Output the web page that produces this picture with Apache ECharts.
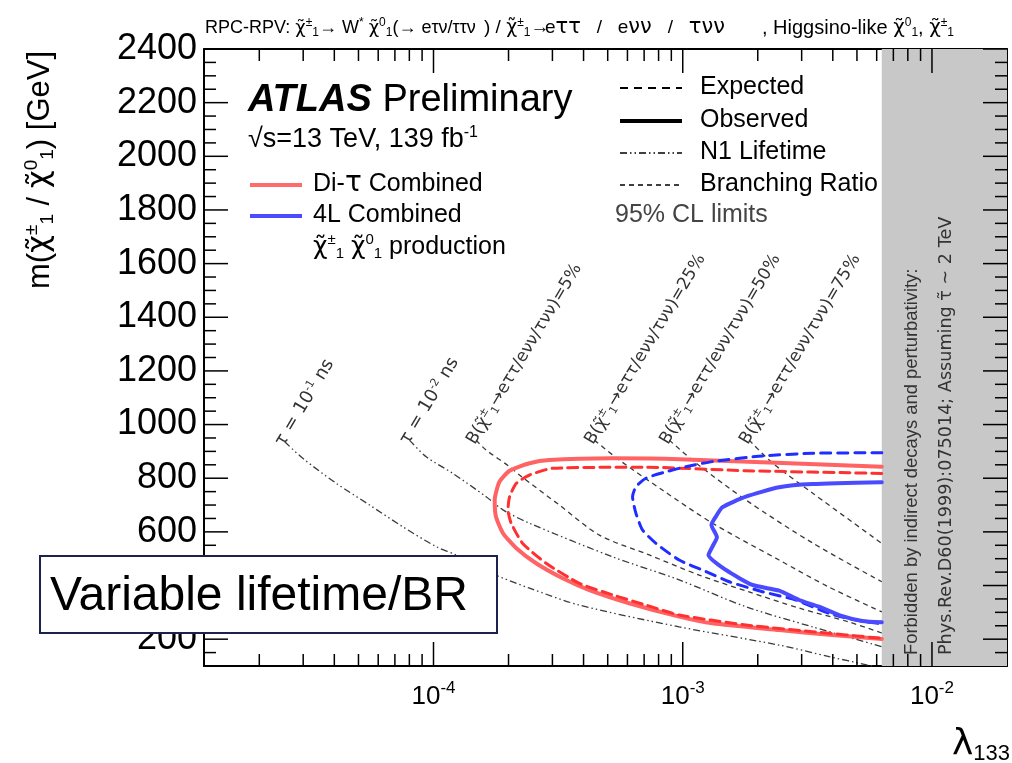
<!DOCTYPE html>
<html><head><meta charset="utf-8">
<script src="https://cdn.jsdelivr.net/npm/echarts@6/dist/echarts.min.js"></script>
<style>html,body{margin:0;padding:0;background:#fff}#c{width:1012px;height:763px}</style>
</head><body><div id="c"></div>
<script>
const FONT = 'Liberation Sans, Arial, Helvetica, sans-serif';
const GFONT = 'DejaVu Sans, sans-serif';
// axes
const xMin = 1.2e-5, xMax = 0.02;
const yMin = 100, yMax = 2400;
const xMajorTicks = [1e-4, 1e-3, 1e-2];
const xMinorTicks = [2e-5,3e-5,4e-5,5e-5,6e-5,7e-5,8e-5,9e-5,2e-4,3e-4,4e-4,5e-4,6e-4,7e-4,8e-4,9e-4,2e-3,3e-3,4e-3,5e-3,6e-3,7e-3,8e-3,9e-3];
const yMajorTicks = [200,400,600,800,1000,1200,1400,1600,1800,2000,2200,2400];
const yMinorTicks = [150,250,300,350,450,500,550,650,700,750,850,900,950,1050,1100,1150,1250,1300,1350,1450,1500,1550,1650,1700,1750,1850,1900,1950,2050,2100,2150,2250,2300,2350];
const bandStart = 0.00629;

// exclusion contours [lambda133, mass GeV]
const diTauObserved = [[0.00629,843],[0.000968,871],[0.000523,874],[0.000292,868],[0.000243,856],[0.000202,828],[0.000184,787],[0.000176,719],[0.000178,657],[0.000190,595],[0.000215,539],[0.000258,483],[0.000330,427],[0.000422,383],[0.000610,334],[0.000968,284],[0.001316,259],[0.002436,234],[0.003866,216],[0.00629,201]];
const diTauExpected = [[0.00629,818],[0.001791,828],[0.000712,841],[0.000301,837],[0.000243,812],[0.000215,781],[0.000202,731],[0.000199,682],[0.000205,632],[0.000228,557],[0.000283,483],[0.000385,408],[0.000523,365],[0.000712,327],[0.000968,290],[0.001791,253],[0.003313,228],[0.00629,203]];
const fourLExpected = [[0.00629,895],[0.003313,893],[0.002088,883],[0.001316,862],[0.001030,843],[0.000856,824],[0.000712,800],[0.000649,768],[0.000629,731],[0.000649,669],[0.000690,607],[0.000781,557],[0.000968,495],[0.001239,452],[0.001536,414],[0.002088,377],[0.002843,346],[0.003866,296],[0.004945,271],[0.00629,257]];
const fourLObserved = [[0.00629,785],[0.003313,778],[0.002436,766],[0.001791,731],[0.001444,692],[0.001358,657],[0.001304,626],[0.001371,580],[0.001316,545],[0.001269,514],[0.001490,458],[0.001905,402],[0.002436,381],[0.002930,346],[0.003524,321],[0.004239,290],[0.005255,268],[0.00629,263]];

// reference lines
const lifetime1 = [[2.53e-5,936],[2.99e-5,874],[4.07e-5,781],[5.54e-5,700],[7.53e-5,619],[1.025e-4,545],[1.233e-4,514],[1.78e-4,439],[2.43e-4,390],[3.85e-4,327],[9.68e-4,246],[2.436e-3,178],[3.866e-3,135],[5.75e-3,100]];
const lifetime2 = [[8.01e-5,942],[9.35e-5,880],[1.195e-4,818],[1.626e-4,731],[1.90e-4,682],[2.43e-4,632],[5.23e-4,507],[9.68e-4,421],[1.791e-3,321],[3.313e-3,246],[6.29e-3,172]];
const br5 = [[1.483e-4,942],[1.626e-4,905],[2.02e-4,843],[2.212e-4,812],[3.2e-4,700],[4.63e-4,588],[7.34e-4,514],[1.164e-3,439],[1.847e-3,376],[2.93e-3,316],[4.648e-3,264],[6.29e-3,223]];
const br25 = [[4.42e-4,942],[5.56e-4,868],[8.28e-4,756],[1.313e-3,633],[2.436e-3,495],[3.866e-3,394],[6.29e-3,302]];
const br50 = [[8.83e-4,942],[1.129e-3,857],[1.791e-3,719],[3.313e-3,559],[6.29e-3,414]];
const br75 = [[1.847e-3,942],[2.29e-3,857],[3.313e-3,745],[6.29e-3,557]];

const lineLabels = {
  lifetime1: '{a|τ = 10}{s|-1}{a| ns}',
  lifetime2: '{a|τ = 10}{s|-2}{a| ns}',
  br5: '{a|B(χ̃}{s|±}{u|1}{a|→eττ/eνν/τνν)=5%}',
  br25: '{a|B(χ̃}{s|±}{u|1}{a|→eττ/eνν/τνν)=25%}',
  br50: '{a|B(χ̃}{s|±}{u|1}{a|→eττ/eνν/τνν)=50%}',
  br75: '{a|B(χ̃}{s|±}{u|1}{a|→eττ/eνν/τνν)=75%}'
};

const DASHDOT = [7,3,1.5,3,1.5,3];
const BRDASH = [5,4];

function mkX(pos, labels) {
  return {type:'log', logBase:10, min:xMin, max:xMax, position:pos,
    axisLine:{show:true, onZero:false, lineStyle:{color:'#000', width:2}},
    axisTick:{show:false},
    axisLabel:{show:labels, customValues:xMajorTicks, margin:14, color:'#000', fontSize:26, fontFamily:FONT,
      formatter: v => '10{s|' + Math.round(Math.log10(v)) + '}',
      rich:{s:{fontSize:17, fontFamily:FONT, color:'#000', padding:[0,0,16,0]}}},
    splitLine:{show:false}, minorTick:{show:false}};
}
function mkY(pos, labels) {
  return {type:'value', min:yMin, max:yMax, position:pos,
    axisLine:{show:true, onZero:false, lineStyle:{color:'#000', width:2}},
    axisTick:{show:false},
    axisLabel:{show:labels, customValues:yMajorTicks, margin:7, color:'#000', fontSize:36, fontFamily:FONT, formatter: v => String(v)},
    splitLine:{show:false}, minorTick:{show:false}};
}
// tick marks drawn through the axes' own scales
function tickSeries(values, isX, len) {
  const data = values.map(v => isX ? [v, yMin] : [xMin, v]);
  return {type:'custom', xAxisIndex:0, yAxisIndex:0, data:data, silent:true, z:20, clip:false,
    renderItem: function (params, api) {
      const st = {stroke:'#000', lineWidth:1.5};
      if (isX) {
        const v = api.value(0);
        const b = api.coord([v, yMin]), t = api.coord([v, yMax]);
        return {type:'group', children:[
          {type:'line', shape:{x1:b[0], y1:b[1], x2:b[0], y2:b[1]-len}, style:st},
          {type:'line', shape:{x1:t[0], y1:t[1], x2:t[0], y2:t[1]+len}, style:st}]};
      }
      const v = api.value(1);
      const l = api.coord([xMin, v]), r = api.coord([xMax, v]);
      return {type:'group', children:[
        {type:'line', shape:{x1:l[0], y1:l[1], x2:l[0]+len, y2:l[1]}, style:st},
        {type:'line', shape:{x1:r[0], y1:r[1], x2:r[0]-len, y2:r[1]}, style:st}]};
    }};
}
const richSmall = {a:{fontSize:17, fontFamily:GFONT, color:'#333'}, s:{fontSize:11, fontFamily:GFONT, color:'#333', padding:[0,0,9,0]}, u:{fontSize:11, fontFamily:GFONT, color:'#333', padding:[9,0,0,0]}};
function theory(data, dash, label, size) {
  const rich = JSON.parse(JSON.stringify(richSmall));
  rich.a.fontSize = size;
  return {type:'line', xAxisIndex:0, yAxisIndex:0, data:data, symbol:'none', smooth:0.3, silent:true, z:3,
    lineStyle:{color:'#3a3a3a', width:1.3, type:dash},
    markPoint:{symbol:'circle', symbolSize:0, silent:true, data:[{coord:data[0]}],
      label:{show:true, position:'inside', rotate:59, align:'left', verticalAlign:'middle', offset:[-5,-3], formatter:label, rich:rich}}};
}
function curve(data, color, width, dash) {
  return {type:'line', xAxisIndex:0, yAxisIndex:0, data:data, symbol:'none', smooth:0.2, silent:true, z:5,
    lineStyle:{color:color, width:width, type:dash, cap:'round', join:'round'}};
}

function mkRich(base, sub, shift, color, gscale) {
  return {t:{fontSize:base, fontFamily:FONT, color:color}, c:{fontSize:base, fontFamily:GFONT, color:color},
    g:{fontSize:Math.round(base*(gscale || 1.1)), fontFamily:GFONT, color:color},
    s:{fontSize:sub, fontFamily:FONT, color:color, padding:[0,0,shift,0]}, u:{fontSize:sub, fontFamily:FONT, color:color, padding:[shift,0,0,0]}};
}
const tR1 = mkRich(18, 12, 10, '#000', 1);
const tR2 = mkRich(19, 12, 10, '#000', 1.1);
const tR3 = mkRich(20, 12, 10, '#000', 1);
const legR = mkRich(25, 15, 14, '#000');
function rtext(x, y, text, rich, extra) {
  return Object.assign({type:'text', x:x, y:y, z:50, silent:true, style:{text:text, rich:rich, fill:'#000', align:'left', verticalAlign:'middle'}}, extra || {});
}
function txt(x, y, text, size, color, family) {
  return {type:'text', x:x, y:y, z:50, silent:true, style:{text:text, fontSize:size, fontFamily:family || FONT, fill:color || '#000', align:'left', verticalAlign:'middle'}};
}
function legLine(x1, x2, y, width, dash, color) {
  return {type:'line', z:50, silent:true, shape:{x1:x1, y1:y, x2:x2, y2:y}, style:{stroke:color || '#000', lineWidth:width, lineDash:dash}};
}
const yTitle = '{t|m(}{c|χ̃}{s|±}{u|1}{t| / }{c|χ̃}{s|0}{u|1}{t|) [GeV]}';

const chart = echarts.init(document.getElementById('c'), null, {renderer:'canvas'});
chart.setOption({
  animation:false,
  textStyle:{fontFamily:FONT},
  grid:{left:204, right:5, top:49, bottom:97},
  xAxis:[mkX('bottom', true), mkX('top', false)],
  yAxis:[mkY('left', true), mkY('right', false)],
  series:[
    {type:'line', xAxisIndex:0, yAxisIndex:0, data:[[bandStart, yMin]], symbol:'none', silent:true, z:-1, lineStyle:{opacity:0},
      markArea:{silent:true, itemStyle:{color:'#c8c8c8'}, data:[[{xAxis:bandStart, yAxis:yMin},{xAxis:xMax, yAxis:yMax}]]}},
    tickSeries(xMajorTicks, true, 24),
    tickSeries(xMinorTicks, true, 12),
    tickSeries(yMajorTicks, false, 24),
    tickSeries(yMinorTicks, false, 12),
    theory(lifetime1, DASHDOT, lineLabels.lifetime1, 18),
    theory(lifetime2, DASHDOT, lineLabels.lifetime2, 18),
    theory(br5, BRDASH, lineLabels.br5, 17),
    theory(br25, BRDASH, lineLabels.br25, 17),
    theory(br50, BRDASH, lineLabels.br50, 17),
    theory(br75, BRDASH, lineLabels.br75, 17),
    curve(diTauObserved, '#ff6363', 4, 'solid'),
    curve(diTauExpected, '#ff3030', 3, [10,6]),
    curve(fourLExpected, '#1f2dff', 3, [10,7]),
    curve(fourLObserved, '#4a4aff', 4, 'solid')
  ],
  graphic:[
    rtext(205, 28, '{t|RPC-RPV: }{c|χ̃}{s|±}{u|1}{t|→ W}{s|*}{t| }{c|χ̃}{s|0}{u|1}{t|(→ eτν/ττν}', tR1),
    rtext(484, 28, '{t|) / }{c|χ̃}{s|±}{u|1}{t|→}', tR2),
    rtext(545, 28, '{t|e}{g|ττ}{t|   /   e}{g|νν}{t|   /   }{g|τνν}', tR2),
    rtext(762, 28, '{t|, Higgsino-like }{c|χ̃}{s|0}{u|1}{t|, }{c|χ̃}{s|±}{u|1}', tR3),
    rtext(40, 170, yTitle, mkRich(31, 19, 16, '#000'), {rotation:Math.PI/2, style:{text:yTitle, rich:mkRich(31, 19, 16, '#000'), fill:'#000', align:'center', verticalAlign:'middle'}}),
    rtext(952, 745, '{c|λ}{u|133}', {c:{fontSize:36, fontFamily:GFONT, color:'#000'}, u:{fontSize:22, fontFamily:FONT, color:'#000', padding:[18,0,0,0]}}),
    rtext(248, 101, '{b|ATLAS}{t| Preliminary}', {b:{fontSize:38, fontWeight:'bold', fontStyle:'italic', fontFamily:FONT, color:'#000'}, t:{fontSize:38, fontFamily:FONT, color:'#000'}}),
    rtext(248, 140, '{t|√s=13 TeV, 139 fb}{s|-1}', mkRich(27, 16, 14, '#000')),
    legLine(250, 302, 185, 4, null, '#ff6b6b'),
    legLine(250, 302, 216, 4, null, '#4b4bff'),
    rtext(313, 184, '{t|Di-}{g|τ}{t| Combined}', legR),
    txt(313, 215, '4L Combined', 25),
    rtext(313, 247, '{c|χ̃}{s|±}{u|1}{t| }{c|χ̃}{s|0}{u|1}{t| production}', legR),
    legLine(620, 682, 88, 2, [8,6]),
    legLine(620, 682, 121, 4, null),
    legLine(620, 682, 153, 1.5, DASHDOT),
    legLine(620, 682, 185, 1.5, [5,4]),
    txt(700, 87, 'Expected', 25),
    txt(700, 120, 'Observed', 25),
    txt(700, 152, 'N1 Lifetime', 25),
    txt(700, 184, 'Branching Ratio', 25),
    txt(615, 215, '95% CL limits', 25, '#444'),
    Object.assign(txt(912, 655, 'Forbidden by indirect decays and perturbativity:', 18.4, '#333'), {rotation:Math.PI/2}),
    Object.assign(txt(946, 655, 'Phys.Rev.D60(1999):075014; Assuming τ̃ ~ 2 TeV', 17.6, '#333', GFONT), {rotation:Math.PI/2}),
    {type:'rect', z:90, silent:true, shape:{x:40, y:556, width:457, height:77}, style:{fill:'#fff', stroke:'#1b2250', lineWidth:2}},
    Object.assign(txt(50, 597, 'Variable lifetime/BR', 48), {z:91})
  ]
});
</script>
</body></html>
